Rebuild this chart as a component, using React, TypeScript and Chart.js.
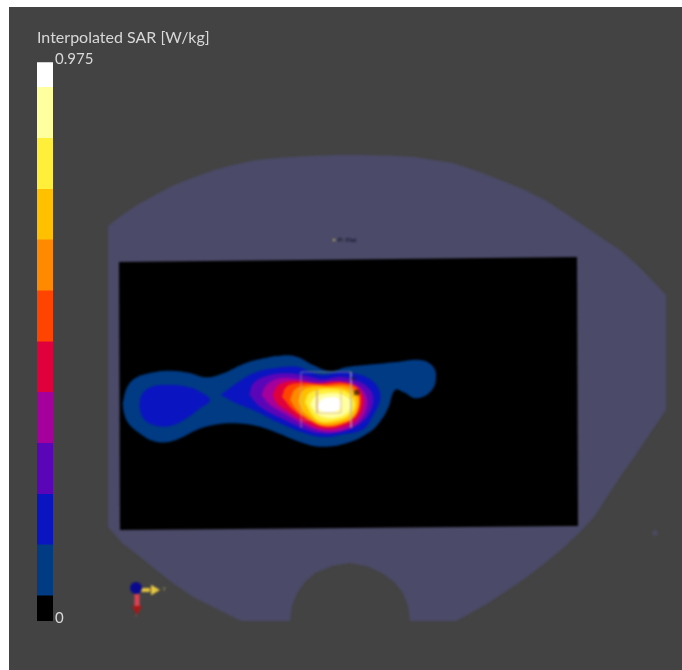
import React, { useEffect, useRef } from "react";
import { Chart, registerables } from "chart.js";
Chart.register(...registerables);

type P = [number, number];

// colour scale
const sarBandEdges = [0, 0.044, 0.133, 0.221, 0.31, 0.399, 0.487, 0.576, 0.665, 0.753, 0.842, 0.931, 0.975];
const sarBandColors = ["#000000", "#003b84", "#0a14c0", "#5a06b8", "#a5009c", "#e0003c", "#ff4400", "#ff8a00", "#ffc000", "#ffee3a", "#ffffa0", "#ffffff"];
const sarTicks = [0, 0.975];

// phantom outline and flat section (picture units)
const phantom: P[] = [[108,226],[122,215],[137,205],[155,195],[174,185],[192,178],[211,171],[233,165],[256,160],[282,157.5],[308,156],[334,155],[360,155],[388,155.5],[415,157],[434,160],[453,163],[480,172],[508,183],[527,191],[545,200],[565,213],[583,225],[602,238],[620,250],[635,263],[649,277],[666,295],[666,410],[653,429],[637,453],[620,477],[607,497],[594,517],[579,533],[562,549],[545,563],[527,577],[508,590],[490,602],[471,613],[456,621],[410,621],[408,606],[403,593],[394,582],[382,573],[366,566],[349,563],[332,566],[315,573],[305,582],[297,593],[292,606],[290,621],[241,621],[217,609],[193,597],[174,584],[156,570],[139,556],[122,543],[108,527]];
const scanArea: P[] = [[119,262],[577,257],[578,526],[120,530]];

// contour outlines (zoom-grid units), lowest SAR first
const contourNavy: P[] = [[38,190],[50,145],[75,115],[120,99],[175,92],[235,98],[290,112],[340,100],[400,72],[460,55],[510,47],[560,50],[609,75],[660,93],[711,81],[790,73],[861,66],[930,60],[965,75],[978,105],[966,150],[921,175],[879,156],[855,150],[834,205],[810,245],[780,275],[711,309],[630,320],[570,306],[510,282],[440,258],[370,250],[310,255],[260,270],[210,295],[170,307],[130,303],[90,281],[55,250],[42,220]];
const contourBlueLeft: P[] = [[88,200],[95,165],[122,142],[170,135],[230,140],[270,155],[300,180],[270,205],[230,235],[180,258],[130,255],[100,235]];
const contourBlue: P[] = [[332,165],[380,130],[430,100],[490,85],[560,80],[600,95],[640,105],[690,95],[730,100],[775,115],[805,145],[810,180],[790,225],[759,268],[700,283],[640,291],[580,278],[510,250],[440,215],[380,190]];
const contourViolet: P[] = [[418,165],[430,130],[470,108],[530,100],[590,108],[640,118],[690,110],[730,118],[772,140],[790,175],[775,225],[735,260],[680,278],[630,280],[580,266],[520,238],[450,200]];
const contourMagenta: P[] = [[455,165],[470,135],[510,115],[570,118],[625,127],[680,122],[735,132],[765,160],[772,195],[752,240],[710,268],[650,276],[590,258],[530,225],[480,195]];
const contourCrimson: P[] = [[488,165],[505,135],[550,123],[620,130],[680,125],[730,135],[755,160],[760,195],[740,238],[700,260],[640,267],[590,250],[535,215],[500,190]];
const contourRed: P[] = [[516,170],[530,140],[575,129],[640,133],[700,129],[740,142],[752,175],[742,222],[705,250],[650,261],[600,243],[550,210]];
const contourOrange: P[] = [[540,180],[555,148],[595,136],[650,137],[710,136],[742,155],[748,190],[732,232],[695,252],[640,258],[600,240],[560,210]];
const contourAmber: P[] = [[565,185],[575,155],[605,142],[660,141],[710,145],[738,165],[745,195],[725,232],[685,248],[635,252],[605,236],[578,212]];
const contourYellow: P[] = [[585,188],[595,162],[625,149],[670,147],[710,155],[730,175],[735,200],[715,228],[675,243],[635,245],[610,230]];
const contourPale: P[] = [[600,195],[612,172],[640,161],[680,159],[710,170],[725,190],[715,215],[685,232],[650,234],[620,222]];
const contourWhite: P[] = [[622,197],[635,178],[660,172],[685,175],[692,195],[682,212],[655,217],[632,213]];
const contours: P[][] = [contourNavy, contourBlueLeft, contourBlue, contourViolet, contourMagenta, contourCrimson, contourRed, contourOrange, contourAmber, contourYellow, contourPale, contourWhite];
const contourColors = ["#003b84", "#0a14c0", "#0a14c0", "#5a06b8", "#a5009c", "#e0003c", "#ff4400", "#ff8a00", "#ffc000", "#ffee3a", "#ffffa0", "#ffffff"];

// measurement frames (picture units)
const frameOuter: P[] = [[301,428],[301,372],[351,372],[351,428]];
const frameOuterStub: P[] = [[301,420],[312,420]];
const frameInner: P[] = [[317,390],[317,413],[341,413],[341,390]];

// orientation triad and small marks (picture units)
const axisY: P[] = [[141,590],[150,590]];
const axisZ: P[] = [[137,594],[137,606]];
const tipY: P[] = [[154,590]];
const tipZ: P[] = [[137,609]];
const ball: P[] = [[136,588]];
const stray: P[] = [[655,533]];
const flatTick: P[] = [[334,240]];
const annotations: { t: string; p: P; c: string; f: string }[] = [
  { t: "P: Flat", p: [338, 240], c: "#15182e", f: "bold 6px 'Liberation Sans'" },
  { t: "m", p: [351, 378], c: "#1a1a30", f: "bold 6px 'Liberation Sans'" },
  { t: "B", p: [354, 393], c: "#000000", f: "bold 8px 'Liberation Sans'" },
  { t: "y", p: [163, 589], c: "#b8b060", f: "5px 'Liberation Sans'" },
  { t: "x", p: [135, 616], c: "#8a5a50", f: "5px 'Liberation Sans'" },
];

const pts = (a: P[], close = false) => (close ? [...a, a[0]] : a).map(([x, y]) => ({ x, y }));

const textPlugin = {
  id: "smallText",
  afterDatasetsDraw(chart: any) {
    const { ctx, scales } = chart;
    ctx.save();
    ctx.textBaseline = "middle";
    for (const a of annotations) {
      ctx.font = a.f;
      ctx.fillStyle = a.c;
      ctx.fillText(a.t, scales.x.getPixelForValue(a.p[0]), scales.y.getPixelForValue(a.p[1]));
    }
    ctx.restore();
  },
};

export default function App() {
  const mapRef = useRef<HTMLCanvasElement>(null);
  const barRef = useRef<HTMLCanvasElement>(null);
  useEffect(() => {
    const poly = (a: P[], color: string) => ({
      data: pts(a, true), showLine: true, fill: "shape", backgroundColor: color, borderColor: color, borderWidth: 0, pointRadius: 0, tension: 0,
    });
    const contour = (a: P[], color: string) => ({
      data: pts(a, true), showLine: true, fill: "shape", backgroundColor: color, borderColor: color, borderWidth: 0, pointRadius: 0, tension: 0.4, xAxisID: "gx", yAxisID: "gy",
    });
    const stroke = (a: P[], color: string, w: number) => ({
      data: pts(a), showLine: true, fill: false, borderColor: color, borderWidth: w, pointRadius: 0, tension: 0,
    });
    const marker = (a: P[], color: string, style: string, r: number, rot = 0) => ({
      data: pts(a), showLine: false, pointStyle: style, pointRadius: r, pointRotation: rot, backgroundColor: color, borderColor: color, borderWidth: 0,
    });
    const layers: any[] = [
      poly(phantom, "#4b4a68"),
      poly(scanArea, "#000000"),
      ...contours.map((c, i) => contour(c, contourColors[i])),
      stroke(frameOuter, "rgba(190,175,165,0.6)", 1),
      stroke(frameOuterStub, "rgba(190,175,165,0.4)", 1),
      stroke(frameInner, "rgba(200,150,140,0.6)", 1),
      stroke(axisY, "#e2c23c", 4),
      stroke(axisZ, "#e04050", 5),
      marker(tipY, "#e8c840", "triangle", 6, 90),
      marker(tipZ, "#a81818", "triangle", 6, 180),
      marker(ball, "#0a0a90", "circle", 6),
      marker(stray, "#4a4a5e", "circle", 3),
      marker(flatTick, "#b8a860", "rect", 1.5),
    ];
    layers.forEach((d, i) => (d.order = layers.length - i));
    const hidden = { display: false };
    const map = new Chart(mapRef.current!, {
      type: "scatter",
      data: { datasets: layers },
      options: {
        animation: false, responsive: false, events: [],
        layout: { padding: 0, autoPadding: false },
        plugins: { legend: hidden, tooltip: { enabled: false }, title: hidden },
        scales: {
          x: { type: "linear", min: 0, max: 682, ...hidden },
          y: { type: "linear", min: 0, max: 670, reverse: true, ...hidden },
          gx: { type: "linear", min: -330, max: 1716, ...hidden },
          gy: { type: "linear", min: -1020, max: 990, reverse: true, ...hidden },
        },
      },
      plugins: [textPlugin],
    } as any);
    const bar = new Chart(barRef.current!, {
      type: "bar",
      data: {
        labels: ["SAR"],
        datasets: sarBandColors.map((c, i) => ({
          data: [sarBandEdges[i + 1] - sarBandEdges[i]], backgroundColor: c, borderWidth: 0, barPercentage: 1, categoryPercentage: 1, stack: "s",
        })),
      },
      options: {
        animation: false, responsive: false, events: [],
        layout: { padding: 0 },
        plugins: {
          legend: hidden, tooltip: { enabled: false },
          title: { display: true, text: "Interpolated SAR [W/kg]", align: "start", color: "#d8d8d8", font: { family: "Lato", size: 16, weight: "normal" }, padding: { top: 0, bottom: 15 } },
        },
        scales: {
          x: { stacked: true, ...hidden },
          y: {
            stacked: true, position: "right", min: 0, max: 0.975,
            grid: { display: false, drawTicks: false }, border: { display: false },
            afterBuildTicks: (s: any) => { s.ticks = sarTicks.map((value) => ({ value })); },
            afterFit: (s: any) => { s.width = 184; },
            ticks: { color: "#d8d8d8", padding: 2, labelOffset: -3, font: { family: "Lato", size: 15 }, callback: (v: any) => String(v) },
          },
        },
      },
    } as any);
    return () => { map.destroy(); bar.destroy(); };
  }, []);
  return (
    <div style={{ position: "fixed", left: 0, top: 0, width: 682, height: 670, overflow: "hidden", background: "#fff" }}>
      <div style={{ position: "absolute", left: 9, top: 7, width: 673, height: 663, background: "#434343" }} />
      <canvas ref={mapRef} width={682} height={670} style={{ position: "absolute", left: 0, top: 0, filter: "blur(0.8px)" }} />
      <canvas ref={barRef} width={200} height={604} style={{ position: "absolute", left: 37, top: 28, filter: "blur(0.4px)" }} />
    </div>
  );
}
